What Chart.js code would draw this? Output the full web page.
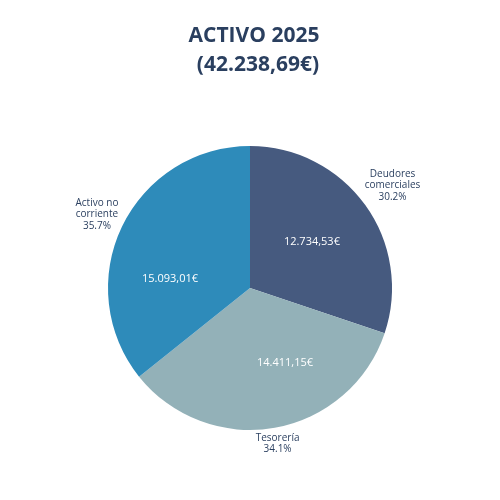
<!DOCTYPE html>
<html><head><meta charset="utf-8">
<script src="https://cdn.jsdelivr.net/npm/chart.js@4"></script>
<style>html,body{margin:0;padding:0;background:#fff}</style>
</head><body>
<canvas id="c" width="500" height="500"></canvas>
<script>
const categories = ['Deudores comerciales', 'Tesorería', 'Activo no corriente'];
const labelLines = [['Deudores', 'comerciales'], ['Tesorería'], ['Activo no', 'corriente']];
const values = [12734.53, 14411.15, 15093.01];
const percentLabels = ['30.2%', '34.1%', '35.7%'];
const colors = ['#465a7f', '#93b1b8', '#2e8bba'];
const titleText = 'ACTIVO 2025';

const total = values.reduce((a, b) => a + b, 0);
function fmtEs(v) {
  const parts = v.toFixed(2).split('.');
  const int = parts[0].replace(/\B(?=(\d{3})+(?!\d))/g, '.');
  return int + ',' + parts[1] + '€';
}
// inside text placement relative to slice mid-angle (degrees) and radius fraction
const insideLayout = [{shift: -1, frac: 0.544}, {shift: -15, frac: 0.583}, {shift: -19.3, frac: 0.567}];
const FONT = '"Open Sans", sans-serif';
const textColor = '#2a3f5f';

const labelPlugin = {
  id: 'pieLabels',
  afterDraw(chart) {
    const ctx = chart.ctx;
    ctx.save();
    // title
    ctx.fillStyle = textColor;
    ctx.font = 'bold 21px ' + FONT;
    ctx.textAlign = 'center';
    ctx.textBaseline = 'alphabetic';
    ctx.fillText(titleText, 254, 42);
    ctx.fillText('(' + fmtEs(total) + ')', 258, 71);

    const meta = chart.getDatasetMeta(0);
    meta.data.forEach((arc, i) => {
      const p = arc.getProps(['x', 'y', 'startAngle', 'endAngle', 'outerRadius'], true);
      const mid = (p.startAngle + p.endAngle) / 2;
      const R = p.outerRadius;
      // inside value
      const a = mid + insideLayout[i].shift * Math.PI / 180;
      const r = insideLayout[i].frac * R;
      ctx.font = '11px ' + FONT;
      ctx.fillStyle = '#ffffff';
      ctx.textAlign = 'center';
      ctx.textBaseline = 'middle';
      ctx.fillText(fmtEs(values[i]), p.x + r * Math.cos(a), p.y + r * Math.sin(a));
      // outside label + percent
      const lines = labelLines[i].concat([percentLabels[i]]);
      ctx.font = '10px ' + FONT;
      const lh = 11.5;
      const w = Math.max(...lines.map(l => ctx.measureText(l).width));
      const h = lines.length * lh;
      const c = Math.cos(mid), s = Math.sin(mid);
      const dist = R + 1 + Math.abs(c) * w / 2 + Math.abs(s) * h / 2;
      const bx = p.x + dist * c, by = p.y + dist * s;
      ctx.fillStyle = textColor;
      lines.forEach((l, k) => {
        ctx.fillText(l, bx, by - h / 2 + lh * (k + 0.5));
      });
    });
    ctx.restore();
  }
};

new Chart(document.getElementById('c'), {
  type: 'pie',
  data: {
    labels: categories,
    datasets: [{ data: values, backgroundColor: colors, borderWidth: 0 }]
  },
  options: {
    responsive: false,
    animation: false,
    devicePixelRatio: 1,
    layout: { padding: { top: 146, bottom: 70, left: 108, right: 108 } },
    plugins: { legend: { display: false }, tooltip: { enabled: false }, title: { display: false } }
  },
  plugins: [labelPlugin]
});
</script>
</body></html>
